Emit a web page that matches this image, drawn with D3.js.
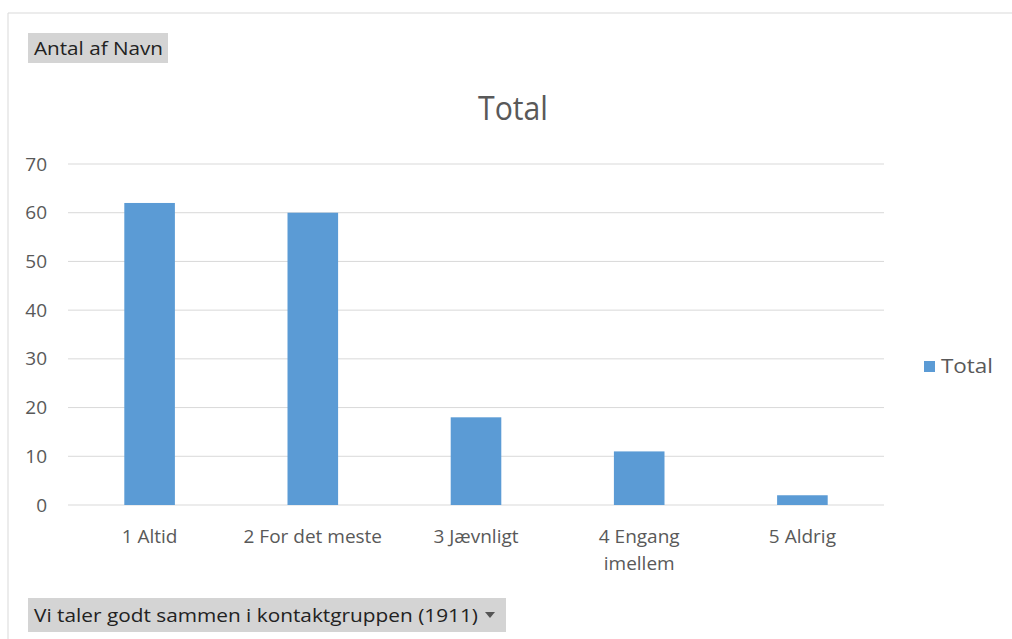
<!DOCTYPE html>
<html>
<head>
<meta charset="utf-8">
<script src="https://cdn.jsdelivr.net/npm/d3@7"></script>
<style>
  body { margin: 0; background: #fff; }
  svg { display: block; font-family: "Open Sans", "Noto Sans", sans-serif; }
</style>
</head>
<body>
<svg id="chart" width="1012" height="639"></svg>
<script>
    var categories = ["1 Altid", "2 For det meste", "3 Jævnligt", "4 Engang imellem", "5 Aldrig"];
    var values = [62, 60, 18, 11, 2];
    var yTicks = [0, 10, 20, 30, 40, 50, 60, 70];

    var svg = d3.select("#chart");

    // outer frame (only top + left visible)
    svg.append("line").attr("x1", 8).attr("y1", 13).attr("x2", 1012).attr("y2", 13)
      .attr("stroke", "#d9d9d9");
    svg.append("line").attr("x1", 8).attr("y1", 13).attr("x2", 8).attr("y2", 639)
      .attr("stroke", "#d9d9d9");

    // field button top
    svg.append("rect").attr("x", 28).attr("y", 33).attr("width", 140).attr("height", 30)
      .attr("fill", "#d4d4d4");
    svg.append("text").attr("x", 34).attr("y", 55).attr("font-size", 19)
      .attr("fill", "#222").attr("textLength", 129).attr("lengthAdjust", "spacingAndGlyphs")
      .text("Antal af Navn");

    // title
    svg.append("text").attr("x", 513).attr("y", 120).attr("text-anchor", "middle")
      .attr("font-size", 33).attr("fill", "#595959")
      .attr("textLength", 70).attr("lengthAdjust", "spacingAndGlyphs").text("Total");

    var x = d3.scaleBand().domain(categories).range([68, 884]).paddingInner(0.69).paddingOuter(0.345);
    var y = d3.scaleLinear().domain([0, 70]).range([505, 164]);

    // gridlines
    svg.append("g").selectAll("line").data(yTicks).enter().append("line")
      .attr("x1", 68).attr("x2", 884)
      .attr("y1", function(d) { return y(d); })
      .attr("y2", function(d) { return y(d); })
      .attr("stroke", "#d9d9d9").attr("stroke-width", 1);

    // y axis labels
    var yAxis = d3.axisLeft(y).tickValues(yTicks).tickSize(0).tickPadding(0);
    var yg = svg.append("g").attr("transform", "translate(47,0)").call(yAxis);
    yg.select(".domain").remove();
    yg.selectAll("text").attr("font-size", 19).attr("fill", "#595959")
      .attr("font-family", "Open Sans, sans-serif");

    // bars
    svg.append("g").selectAll("rect").data(values).enter().append("rect")
      .attr("x", function(d, i) { return x(categories[i]); })
      .attr("width", x.bandwidth())
      .attr("y", function(d) { return y(d); })
      .attr("height", function(d) { return y(0) - y(d); })
      .attr("fill", "#5b9bd5");

    // x axis labels (wrapped)
    var xAxis = d3.axisBottom(x).tickSize(0).tickPadding(0);
    var xg = svg.append("g").attr("transform", "translate(0,529)").call(xAxis);
    xg.select(".domain").remove();
    xg.selectAll("text").attr("font-size", 19).attr("fill", "#595959")
      .attr("font-family", "Open Sans, sans-serif")
      .each(function(d) {
        var t = d3.select(this);
        if (d === "4 Engang imellem") {
          t.text(null);
          t.append("tspan").attr("x", 0).attr("dy", "0.71em").text("4 Engang");
          t.append("tspan").attr("x", 0).attr("dy", "1.45em").text("imellem");
        }
      });

    // legend
    svg.append("rect").attr("x", 924).attr("y", 361).attr("width", 11).attr("height", 11)
      .attr("fill", "#5b9bd5");
    svg.append("text").attr("x", 941).attr("y", 373).attr("font-size", 20)
      .attr("fill", "#595959").attr("textLength", 52).attr("lengthAdjust", "spacingAndGlyphs")
      .text("Total");

    // field button bottom
    svg.append("rect").attr("x", 28).attr("y", 598).attr("width", 478).attr("height", 34)
      .attr("fill", "#d4d4d4");
    svg.append("text").attr("x", 34).attr("y", 622).attr("font-size", 19)
      .attr("fill", "#222").attr("textLength", 444).attr("lengthAdjust", "spacingAndGlyphs")
      .text("Vi taler godt sammen i kontaktgruppen (1911)");
    svg.append("path").attr("d", "M485,612 L495,612 L490,618 Z").attr("fill", "#555");
</script>
</body>
</html>
